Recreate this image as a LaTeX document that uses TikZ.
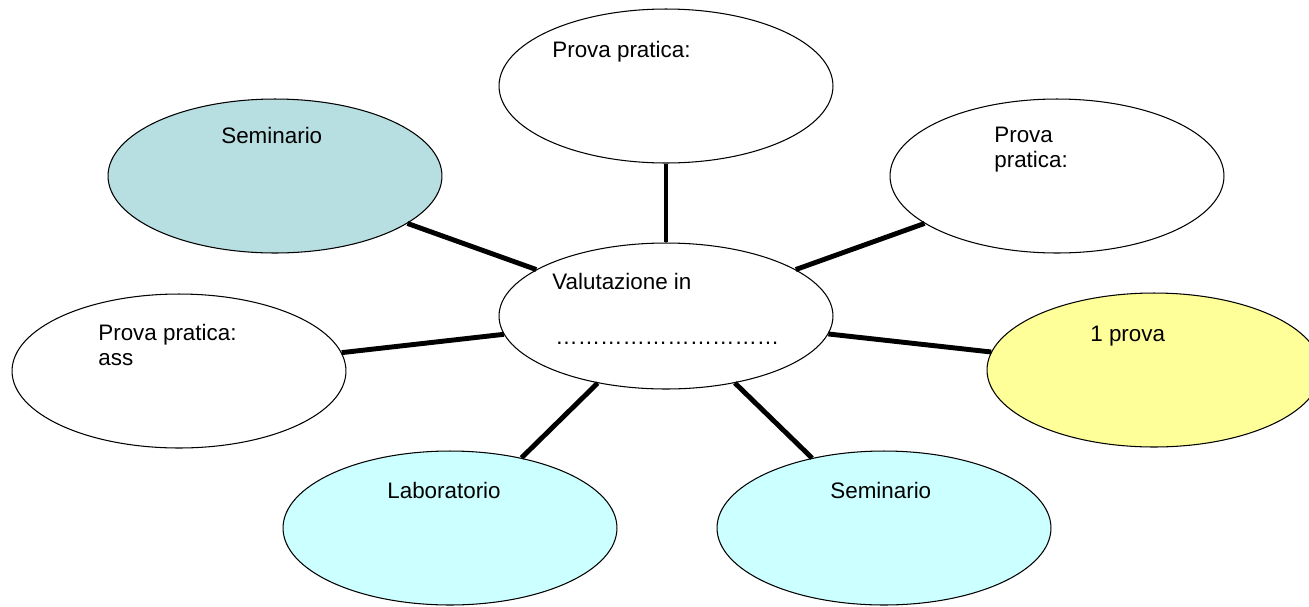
\documentclass[tikz,border=0pt]{standalone}
\usepackage{fontspec}
\setmainfont{Liberation Sans}
\usepackage{xcolor}
\definecolor{semteal}{HTML}{B7DEE0}
\definecolor{labcyan}{HTML}{CCFFFF}
\definecolor{provayellow}{HTML}{FFFF99}
\usetikzlibrary{
  positioning,
  calc,
  shapes.geometric
}

\begin{document}
\begin{tikzpicture}[
    x=0.02cm, y=-0.02cm,
    every node/.style={font=\fontsize{12.75}{13.8}\selectfont},
    bubble/.style={
      draw,
      ellipse,
      line width=0.6pt,
      fill=white,
      inner sep=0pt,
      minimum width=6.68cm,
      minimum height=3.08cm
    },
    txt/.style={
      anchor=base west,
      align=left,
      inner sep=0pt
    },
    link/.style={line width=2.8pt}
  ]
    \useasboundingbox (0,0) rectangle (1309,606);

    % Centre: Valutazione in ...
    \node[bubble, minimum height=2.92cm] (eval) at (666,316) {};

    % Surrounding ellipses
    \node[bubble] (top) at (666,86) {};
    \node[bubble] (topright) at (1057,176) {};
    \node[bubble, fill=provayellow] (right) at (1154,370) {};
    \node[bubble, fill=labcyan] (botright) at (884,528) {};
    \node[bubble, fill=labcyan] (botleft) at (450,528) {};
    \node[bubble] (left) at (179,371) {};
    \node[bubble, fill=semteal] (topleft) at (275,176) {};

    % Spokes
    \draw[link] (eval) -- (top);
    \draw[link] (eval) -- (topright);
    \draw[link] (eval) -- (right);
    \draw[link] (eval) -- (botright);
    \draw[link] (eval) -- (botleft);
    \draw[link] (eval) -- (left);
    \draw[link] (eval) -- (topleft);

    % Texts, upper left in each ellipse (base = last line)
    \node[txt] (evaltxt) at ([shift={(-114,-27)}]eval.center) {Valutazione in};
    \node[txt] (evaldots) at ([shift={(-111,28)}]eval.center) {…………………………};
    \node[txt] (toptxt) at ([shift={(-114,-29)}]top.center) {Prova pratica:};
    \node[txt] (toprighttxt) at ([shift={(-63,-9)}]topright.center) {Prova\\pratica:};
    \node[txt] (righttxt) at ([shift={(-64,-29)}]right.center) {1 prova};
    \node[txt] (lefttxt) at ([shift={(-81,-6)}]left.center) {Prova pratica:\\ass};
    \node[txt] (toplefttxt) at ([shift={(-54,-33)}]topleft.center) {Seminario};
    \node[txt] (botlefttxt) at ([shift={(-63,-30)}]botleft.center) {Laboratorio};
    \node[txt] (botrighttxt) at ([shift={(-54,-30)}]botright.center) {Seminario};

  \end{tikzpicture}
\end{document}
